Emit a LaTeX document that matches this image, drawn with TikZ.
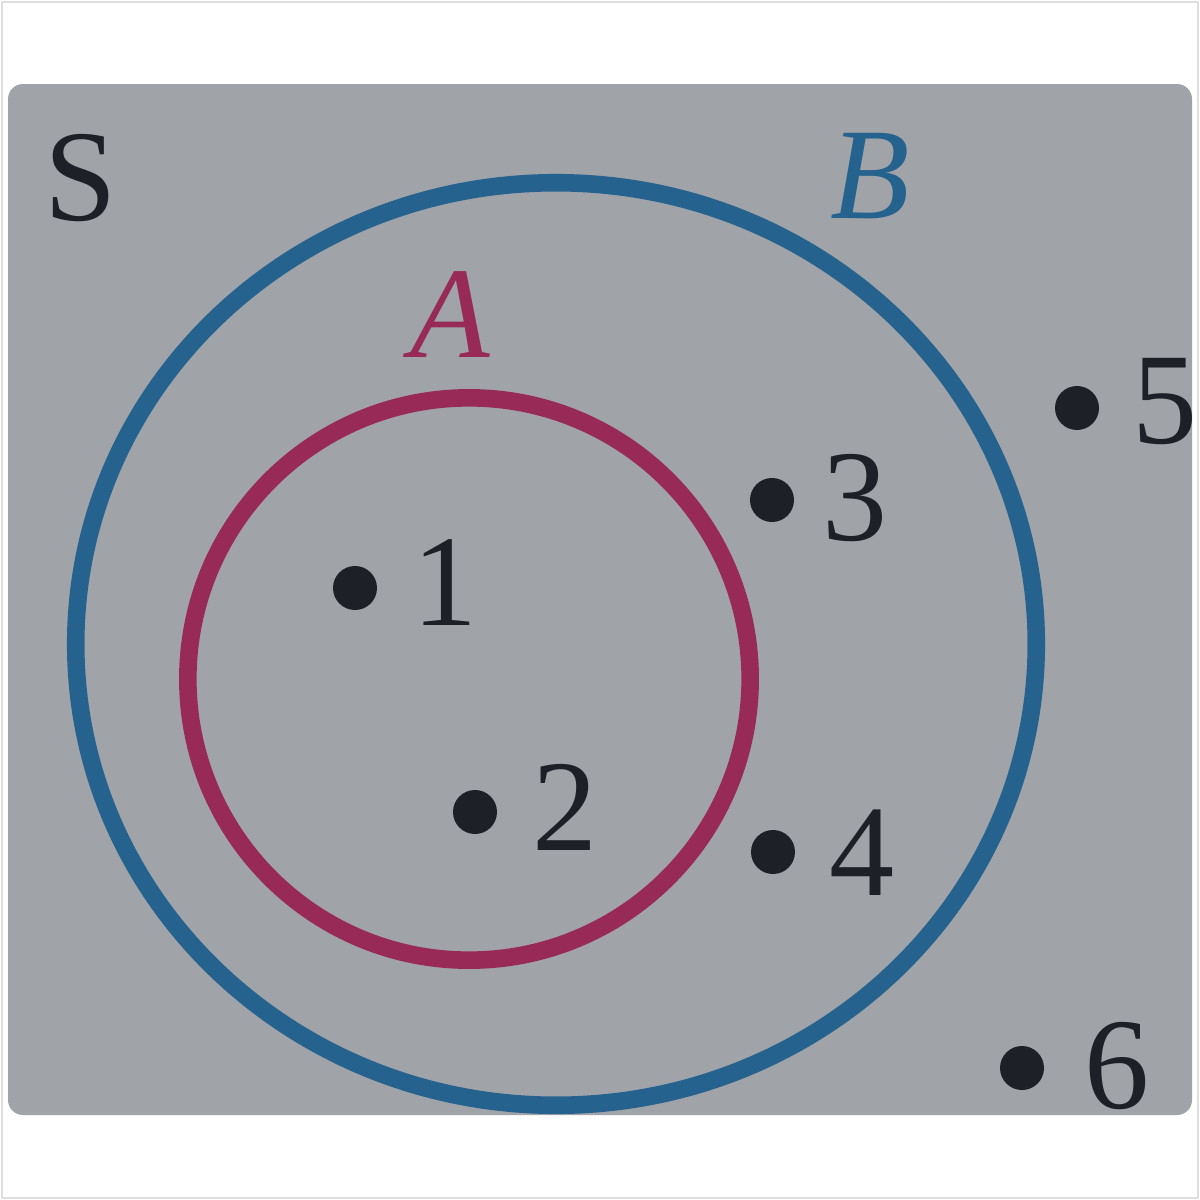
\documentclass[tikz,border=0pt]{standalone}
\usepackage{fontspec}
\setmainfont{Liberation Serif}
\usetikzlibrary{shapes.geometric}
\definecolor{paper}{RGB}{160,164,169}
\definecolor{setblue}{RGB}{38,98,142}
\definecolor{setred}{RGB}{152,42,88}
\definecolor{ink}{RGB}{30,32,40}
\tikzset{
  lbl/.style={anchor=base,inner sep=0pt,font=\fontsize{37}{40}\selectfont,text=ink},
  pt/.style={circle,fill=ink,inner sep=0pt,minimum size=0.44cm},
  setline/.style={line width=5pt}
}
\begin{document}
\begin{tikzpicture}[x=0.01cm,y=-0.01cm]
\useasboundingbox (0,0) rectangle (1200,1200);
\fill[white] (0,0) rectangle (1200,1200);
\draw[gray!25,line width=0.6pt] (2,2) rectangle (1198,1198);
\fill[paper,rounded corners=0.15cm] (8,84) rectangle (1192,1115);
% sets
\node[ellipse,draw=setblue,setline,minimum width=9.6cm,minimum height=9.22cm,inner sep=0pt] (B) at (556,644) {};
\node[circle,draw=setred,setline,minimum size=5.62cm,inner sep=0pt] (A) at (469,679) {};
% labels
\node[lbl] (S) at (81,220) {S};
\node[lbl,text=setblue] (Bl) at (870,218) {\itshape B};
\node[lbl,text=setred] (Al) at (450,357) {\itshape A};
% points
\node[pt] (d1) at (355,588) {};
\node[pt] (d2) at (475,812) {};
\node[pt] (d3) at (772,500) {};
\node[pt] (d4) at (773,852) {};
\node[pt] (d5) at (1077,408) {};
\node[pt] (d6) at (1022,1068) {};
\node[lbl] (n1) at (445,625) {1};
\node[lbl] (n2) at (565,850) {2};
\node[lbl] (n3) at (855,540) {3};
\node[lbl] (n4) at (862,895) {4};
\node[lbl] (n5) at (1165,443) {5};
\node[lbl] (n6) at (1117,1108) {6};
\end{tikzpicture}
\end{document}
